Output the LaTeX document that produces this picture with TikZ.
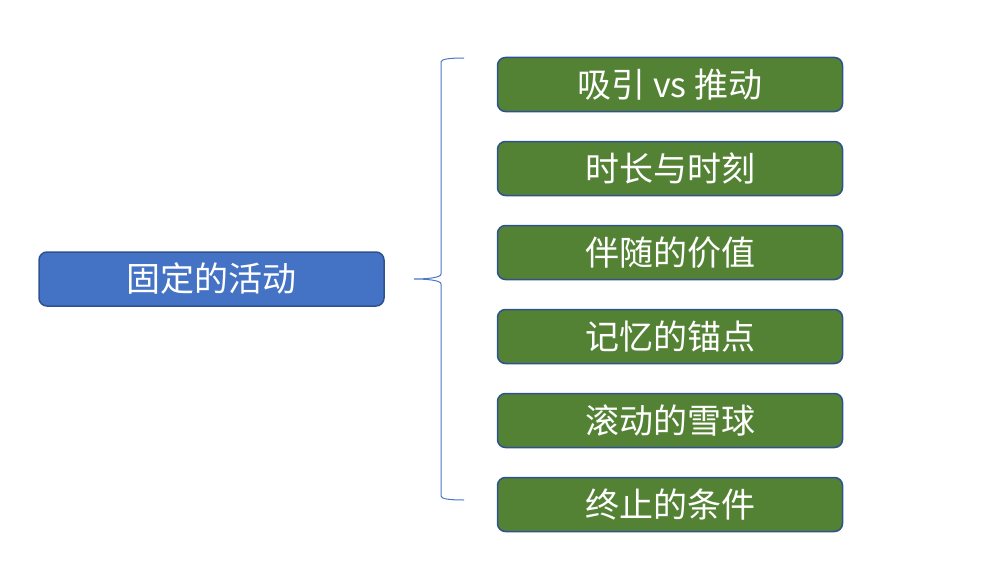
\documentclass[tikz,border=0pt]{standalone}
\usepackage{fontspec}
\newfontfamily\cjk{Noto Sans CJK SC}
\usetikzlibrary{calc}
\usetikzlibrary{positioning}
\definecolor{topicblue}{HTML}{4472C4}
\definecolor{itemgreen}{HTML}{548235}
\definecolor{edgeblue}{HTML}{2F528F}
\definecolor{bracecol}{HTML}{4A76C6}

\begin{document}
\begin{tikzpicture}[%
  x=1pt, y=-1pt,
  box/.style={draw=edgeblue, line width=1.5pt, rounded corners=8pt,
    minimum width=345pt, minimum height=54pt, inner sep=0pt, outer sep=0pt,
    text=white, font=\cjk\fontsize{34}{38}\selectfont},
  topic/.style={box, fill=topicblue},
  item/.style={box, fill=itemgreen},
  brace/.style={draw=bracecol, line width=1pt},
]

  \useasboundingbox (0,0) rectangle (1004,586);

  \node[topic] (root) at (211.5,279) {固定的活动};

  \node[item] (i1) at (670,84.5) {吸引 vs 推动};
  \node[item, below=30pt of i1] (i2) {时长与时刻};
  \node[item, below=30pt of i2] (i3) {伴随的价值};
  \node[item, below=30pt of i3] (i4) {记忆的锚点};
  \node[item, below=30pt of i4] (i5) {滚动的雪球};
  \node[item, below=30pt of i5] (i6) {终止的条件};

  % brace
  \coordinate (btop) at (464,58);
  \coordinate (bbot) at (464,500);
  \coordinate (btip) at (414,279);
  \draw[brace] (btop) .. controls (450,58) and (441,59) .. (441,62)
    -- (441,274) .. controls (441,278) and (425,279) .. (btip)
    .. controls (425,279) and (441,280) .. (441,284)
    -- (441,496) .. controls (441,499) and (450,500) .. (bbot);

\end{tikzpicture}
\end{document}
